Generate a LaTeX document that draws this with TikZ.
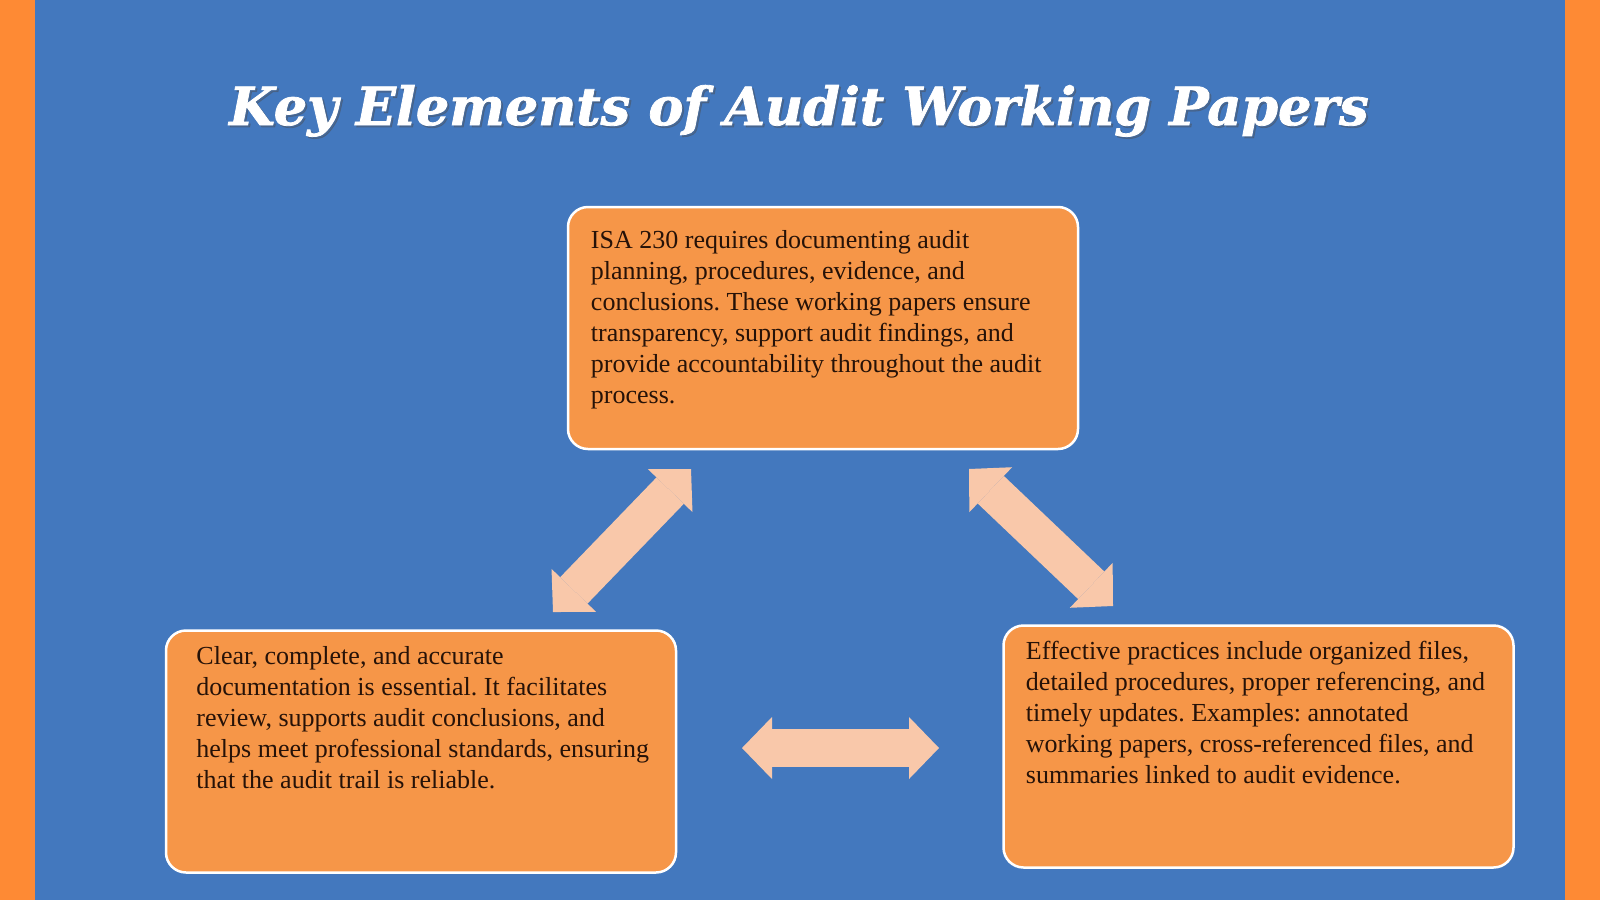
\documentclass[tikz,border=0pt]{standalone}
\usepackage{fontspec}
\setmainfont{Liberation Serif}
\newfontfamily\headfont[BoldItalicFeatures={FakeBold=1.5}]{DejaVu Serif}
\usetikzlibrary{arrows.meta}
\definecolor{barorange}{RGB}{254,138,52}
\definecolor{bgblue}{RGB}{67,120,190}
\definecolor{cardorange}{RGB}{246,150,72}
\definecolor{peach}{RGB}{249,200,170}
\definecolor{inkbrown}{RGB}{38,18,8}
\frenchspacing
\tikzset{
  card/.style={draw=white, line width=2.5pt, fill=cardorange, rounded corners=20pt,
    minimum width=510pt, minimum height=242pt, inner sep=0pt},
  cardtext/.style={anchor=north west, align=left, inner sep=0pt, text=inkbrown,
    font=\fontsize{26}{31}\selectfont},
  headline/.style={anchor=base, inner sep=0pt, text=white,
    font=\headfont\bfseries\itshape\fontsize{52.5}{60}\selectfont},
  link/.style={peach, line width=38pt,
    {Triangle[width=62pt,length=30pt,line width=0pt]}-{Triangle[width=62pt,length=30pt,line width=0pt]}}
}
\begin{document}
\begin{tikzpicture}[x=1pt,y=-1pt]
  \useasboundingbox (0,0) rectangle (1600,900);
  \fill[barorange] (0,0) rectangle (1600,900);
  \fill[bgblue] (35,0) rectangle (1565,900);

  \node[headline, text=black!70, opacity=0.35] (titleshadow) at (801,127) {Key Elements of Audit Working Papers};
  \node[headline] (title) at (799,125) {Key Elements of Audit Working Papers};

  \node[card] (isa) at (823,328) {};
  \node[card] (clear) at (421,751.5) {};
  \node[card] (practice) at (1258.5,746.5) {};

  \node[cardtext] (isatext) at ([shift={(24,25)}]isa.north west)
    {ISA 230 requires documenting audit\\
     planning, procedures, evidence, and\\
     conclusions. These working papers ensure\\
     transparency, support audit findings, and\\
     provide accountability throughout the audit\\
     process.};
  \node[cardtext] (cleartext) at ([shift={(31.5,17)}]clear.north west)
    {Clear, complete, and accurate\\
     documentation is essential. It facilitates\\
     review, supports audit conclusions, and\\
     helps meet professional standards, ensuring\\
     that the audit trail is reliable.};
  \node[cardtext] (practicetext) at ([shift={(23.5,17)}]practice.north west)
    {Effective practices include organized files,\\
     detailed procedures, proper referencing, and\\
     timely updates. Examples: annotated\\
     working papers, cross-referenced files, and\\
     summaries linked to audit evidence.};

  \coordinate (l1) at (553,612);
  \coordinate (l2) at (691,469);
  \coordinate (r1) at (969,469);
  \coordinate (r2) at (1113,606);
  \coordinate (h1) at (742,748);
  \coordinate (h2) at (939,748);
  \begin{scope}[link]
    \draw (l1) -- (l2);
    \draw (r1) -- (r2);
    \draw (h1) -- (h2);
  \end{scope}
\end{tikzpicture}
\end{document}
